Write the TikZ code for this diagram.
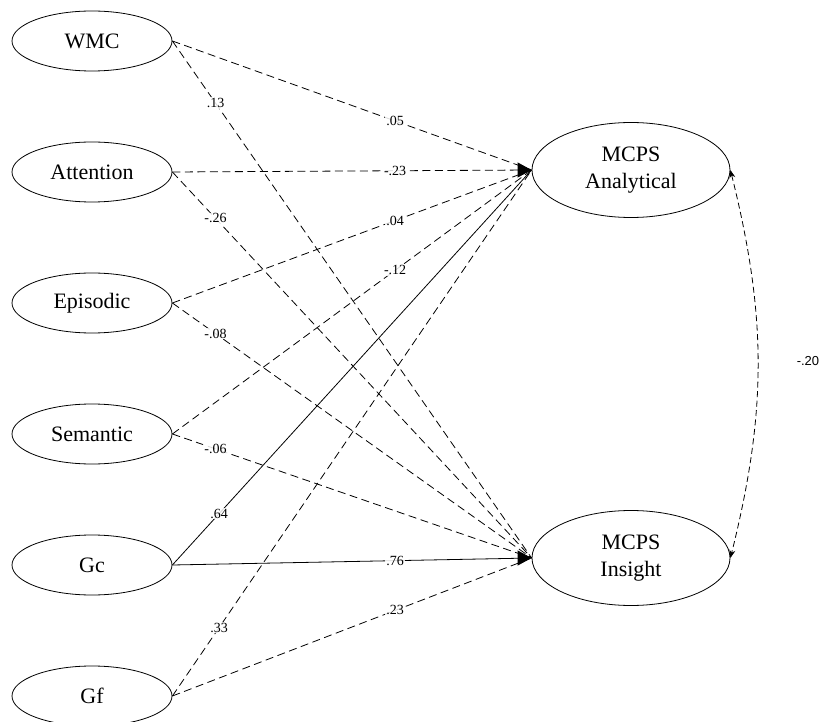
\documentclass[tikz,border=0pt]{standalone}
\usepackage{fontspec}
\setmainfont{Liberation Serif}
\newfontfamily\corrFont{Liberation Sans}
\usetikzlibrary{shapes.geometric,arrows.meta}
\begin{document}
\begin{tikzpicture}[x=1pt,y=-1pt,
    latent/.style={ellipse,draw,line width=0.8pt,minimum width=160pt,minimum height=60pt,inner sep=0pt,font=\fontsize{22}{27}\selectfont},
    outcome/.style={latent,minimum width=198pt,minimum height=95pt,align=center},
    regpath/.style={line width=0.8pt},
    nonsig/.style={regpath,dash pattern=on 8pt off 4.5pt},
    headtip/.style={line width=0.8pt,-{Triangle[length=14pt,width=15pt]}},
    coef/.style={font=\fontsize{14}{15}\selectfont,fill=white,fill opacity=0.85,text opacity=1,inner sep=1pt}]
  \useasboundingbox (0,0) rectangle (820,722);
  % predictors
  \foreach \name/\txt [count=\i from 0] in {wmc/WMC,att/Attention,epi/Episodic,sem/Semantic,gc/Gc,gf/Gf}
    \node[latent] (\name) at (92,{41+131*\i}) {\txt};
  % outcomes
  \node[outcome] (ana) at (631,170) {MCPS\\Analytical};
  \node[outcome] (ins) at (631,558) {MCPS\\Insight};
  \coordinate (anaIn) at ([xshift=-14pt]ana.west);
  \coordinate (insIn) at ([xshift=-14pt]ins.west);
  % paths to analytical
  \draw[nonsig] (wmc.east) -- node[coef,pos=0.62] {.05} (ana.west);
  \draw[nonsig] (att.east) -- node[coef,pos=0.62] {-.23} (ana.west);
  \draw[nonsig] (epi.east) -- node[coef,pos=0.62] {.04} (ana.west);
  \draw[nonsig] (sem.east) -- node[coef,pos=0.62] {-.12} (ana.west);
  \draw[regpath] (gc.east) -- node[coef,pos=0.13] {.64} (ana.west);
  \draw[nonsig] (gf.east) -- node[coef,pos=0.13] {.33} (ana.west);
  \draw[headtip] (anaIn) -- (ana.west);
  % paths to insight
  \draw[nonsig] (wmc.east) -- node[coef,pos=0.12] {.13} (ins.west);
  \draw[nonsig] (att.east) -- node[coef,pos=0.12] {-.26} (ins.west);
  \draw[nonsig] (epi.east) -- node[coef,pos=0.12] {-.08} (ins.west);
  \draw[nonsig] (sem.east) -- node[coef,pos=0.12] {-.06} (ins.west);
  \draw[regpath] (gc.east) -- node[coef,pos=0.62] {.76} (ins.west);
  \draw[nonsig] (gf.east) -- node[coef,pos=0.62] {.23} (ins.west);
  \draw[headtip] (insIn) -- (ins.west);
  % residual correlation
  \draw[line width=0.8pt,dash pattern=on 6pt off 3.5pt,{Stealth[length=8pt,width=6pt]}-{Stealth[length=8pt,width=6pt]}]
    (ana.east) to[bend left=14] (ins.east);
  \node[font=\corrFont\fontsize{13}{14}\selectfont] (corr) at (808,361) {-.20};
\end{tikzpicture}
\end{document}
